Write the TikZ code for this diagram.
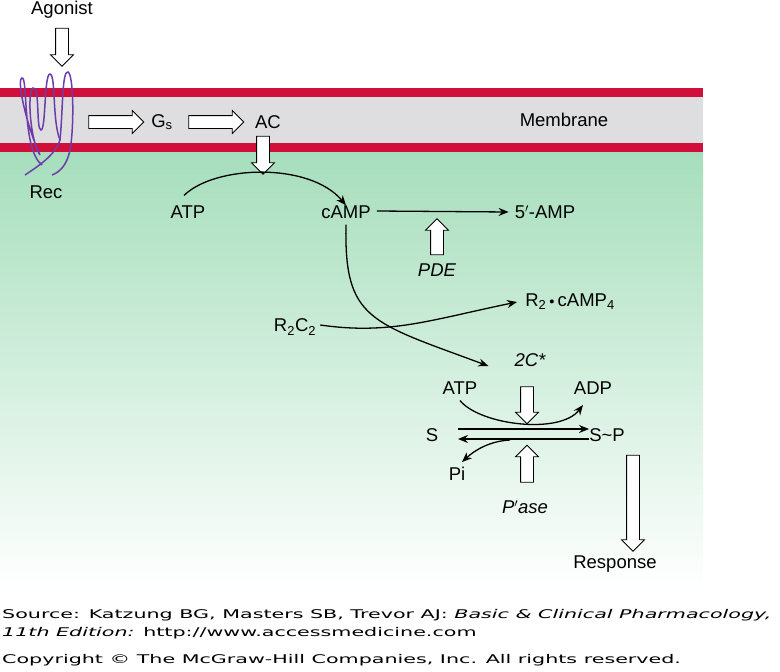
\documentclass[tikz,border=0pt]{standalone}
\usepackage{fontspec}
\setmainfont{Liberation Sans}
\newfontfamily\vfont{DejaVu Sans}
\usetikzlibrary{shapes.arrows,arrows.meta}
\definecolor{memred}{RGB}{208,16,58}
\definecolor{memgrey}{RGB}{222,222,224}
\definecolor{cytgreen}{RGB}{166,222,188}
\definecolor{recpurple}{RGB}{110,60,170}
\begin{document}
\begin{tikzpicture}[x=1pt,y=-1pt,
  lbl/.style={font=\fontsize{18.5}{20}\selectfont, inner sep=0pt},
  ilbl/.style={lbl, font=\fontsize{18.5}{20}\selectfont\itshape},
  foot/.style={font=\vfont\fontsize{12}{14}\selectfont, inner sep=0pt, anchor=west},
  harrow/.style={single arrow, draw=black, fill=white, line width=0.8pt, inner xsep=0pt, inner ysep=6pt,
     minimum width=22pt, single arrow head extend=5pt, single arrow head indent=0pt},
  rx/.style={-{Stealth[length=10pt,width=8pt]}, line width=1.3pt}]
\useasboundingbox (0,0) rectangle (780,672);
% background
\shade[top color=cytgreen, bottom color=white] (0,152) rectangle (703,590);
\fill[memgrey] (0,97) rectangle (703,143);
\fill[memred] (0,88) rectangle (703,97);
\fill[memred] (0,143) rectangle (703,152);
% receptor
\draw[recpurple, line width=1.5pt]
  (25,175) .. controls (40,165) and (55,155) .. (60,140)
  .. controls (63,110) and (62,70) .. (68,72) .. controls (74,75) and (74,130) .. (70,150)
  .. controls (67,165) and (60,172) .. (52,175);
\draw[recpurple, line width=1.5pt]
  (60,140) .. controls (52,120) and (56,75) .. (50,74) .. controls (44,74) and (46,130) .. (41,130)
  .. controls (36,130) and (40,85) .. (33,88) .. controls (27,92) and (30,140) .. (40,155)
  .. controls (28,130) and (16,80) .. (22,78) .. controls (28,76) and (22,150) .. (42,165);
% labels
\node[lbl] (agon) at (62,10) {Agonist};
\node[lbl] (rec) at (46,192) {Rec};
\node[lbl] (gs) at (162,122) {G\textsubscript{s}};
\node[lbl] (ac) at (268,122) {AC};
\node[lbl] (mem) at (564,120) {Membrane};
\node[lbl] (atp1) at (188,212) {ATP};
\node[lbl] (camp) at (346,212) {cAMP};
\node[lbl] (amp) at (545,212) {5$'$-AMP};
\node[ilbl] (pde) at (437,270) {PDE};
\node[lbl] (r2c) at (570,302) {R\textsubscript{2}\,\raisebox{2pt}{\scalebox{0.6}{$\bullet$}}\,cAMP\textsubscript{4}};
\node[lbl] (r2c2) at (295,327) {R\textsubscript{2}C\textsubscript{2}};
\node[ilbl] (twoc) at (530,360) {2C*};
\node[lbl] (atp2) at (460,388) {ATP};
\node[lbl] (adp) at (593,388) {ADP};
\node[lbl] (s) at (432,435) {S};
\node[lbl] (sp) at (607,435) {S\textasciitilde P};
\node[lbl] (pi) at (457,474) {Pi};
\node[ilbl] (pase) at (525,507) {P$'$ase};
\node[lbl] (resp) at (615,564) {Response};
% hollow arrows
\node[harrow, minimum height=38pt, rotate=-90] (h1) at (62,44) {};
\node[harrow, minimum height=55pt] (h2) at (113,122) {};
\node[harrow, minimum height=55pt] (h3) at (213,122) {};
\node[harrow, minimum height=38pt, rotate=-90] (h4) at (263,152) {};
\node[harrow, minimum height=36pt, rotate=90] (h5) at (437,240) {};
\node[harrow, minimum height=37pt, rotate=-90] (h6) at (527,402) {};
\node[harrow, minimum height=37pt, rotate=90] (h7) at (527,467) {};
\node[harrow, minimum height=96pt, rotate=-90] (h8) at (633,500) {};
% reaction arrows
\draw[rx] (atp1.north) ++(-4,-10) .. controls (215,165) and (310,162) .. (camp.north);
\draw[rx] (camp.east) ++(6,-1) -- ([xshift=-6pt]amp.west);
\draw[rx] (camp.south) ++(0,6) .. controls (344,320) and (370,322) .. ([xshift=-26pt,yshift=-6pt]twoc.west);
\draw[rx] (r2c2.east) ++(4,-2) .. controls (390,335) and (430,320) .. ([xshift=-8pt]r2c.west);
\draw[rx] (458,429) -- (sp.west |- 0,429);
\draw[rx] (sp.west |- 0,439) -- (458,439);
\draw[rx] (atp2.south) ++(0,6) .. controls (480,425) and (560,435) .. (583,405);
\draw[rx] (510,440) .. controls (490,441) and (475,450) .. (462,462);
% footer
\node[foot] (f1) at (2,615) {\scalebox{1.72}[1]{Source: Katzung BG, Masters SB, Trevor AJ: \textit{Basic \& Clinical Pharmacology,}}};
\node[foot] (f2) at (2,633) {\scalebox{1.72}[1]{\textit{11th Edition:} http://www.accessmedicine.com}};
\node[foot] (f3) at (2,660) {\scalebox{1.72}[1]{Copyright \textcopyright{} The McGraw-Hill Companies, Inc. All rights reserved.}};
\end{tikzpicture}
\end{document}
